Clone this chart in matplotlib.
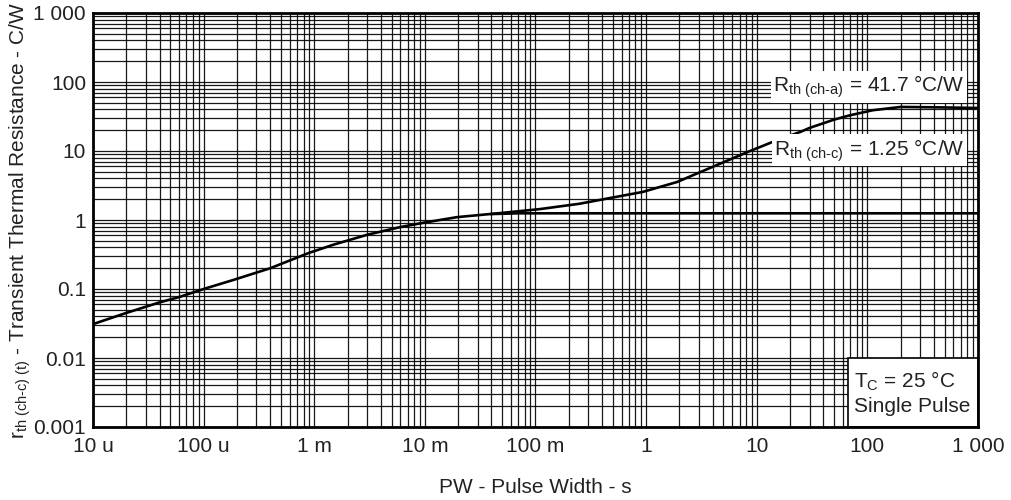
import numpy as np
import matplotlib.pyplot as plt

plt.rcParams['font.family'] = ['Liberation Sans', 'DejaVu Sans']
plt.rcParams['mathtext.fontset'] = 'custom'
plt.rcParams['mathtext.rm'] = 'Liberation Sans'
plt.rcParams['mathtext.it'] = 'Liberation Sans'

# transient thermal resistance, channel to ambient
pw_a = [1e-5, 2e-5, 4e-5, 6.1e-5, 1e-4, 1.85e-4, 4e-4, 8.8e-4, 1.5e-3, 3e-3,
        6e-3, 1e-2, 0.0195, 0.048, 0.11, 0.25, 0.47, 0.93, 1.9, 4, 8.7,
        15, 25, 30, 50, 70, 112, 200, 400, 1000]
rth_a = [0.031, 0.045, 0.064, 0.077, 0.1, 0.135, 0.2, 0.33, 0.44, 0.61,
         0.79, 0.92, 1.1, 1.26, 1.44, 1.72, 2.08, 2.55, 3.55, 5.9, 10,
         14.2, 19, 21.6, 28.5, 33, 39, 43.5, 43, 42]

# channel to case, saturates at 1.25
pw_c = [0.04, 0.07, 1000]
rth_c = [1.22, 1.25, 1.25]

xticks = [1e-5, 1e-4, 1e-3, 1e-2, 1e-1, 1, 10, 100, 1000]
xlabels = ['10 u', '100 u', '1 m', '10 m', '100 m', '1', '10', '100', '1 000']
yticks = [1e-3, 1e-2, 1e-1, 1, 10, 100, 1000]
ylabels = ['0.001', '0.01', '0.1', '1', '10', '100', '1 000']

fig = plt.figure(figsize=(10.12, 5.0), dpi=100)
ax = fig.add_axes([93/1012, 1 - 427/500, 885/1012, 414/500])

ax.set_xscale('log')
ax.set_yscale('log')
ax.set_xlim(1e-5, 1000)
ax.set_ylim(1e-3, 1000)

ax.plot(pw_c, rth_c, color='black', lw=1.9, zorder=3)
ax.plot(pw_a, rth_a, color='black', lw=1.9, zorder=3)

ax.set_xticks(xticks)
ax.set_xticklabels(xlabels)
ax.set_yticks(yticks)
ax.set_yticklabels(ylabels)
ax.tick_params(which='both', length=0, labelsize=15, colors='#222222')
ax.tick_params(axis='x', pad=7)
ax.tick_params(axis='y', pad=5)
ax.grid(True, which='both', color='black', lw=0.9, alpha=0.9)

for s in ax.spines.values():
    s.set_linewidth(2)
    s.set_zorder(5)

ax.set_xlabel('PW - Pulse Width - s', fontsize=15, color='#222222', labelpad=16)
ax.set_ylabel(r'r$_{\rm th\ (ch‐c)\ (t)}$ - Transient Thermal Resistance - C/W',
              fontsize=15, color='#222222', labelpad=0)

box = dict(facecolor='white', edgecolor='none', pad=2)
ax.text(0.985, 0.822, r'R$_{\rm th\ (ch‐a)}$ = 41.7 °C/W', transform=ax.transAxes,
        ha='right', va='center', fontsize=15, color='#222222', bbox=box, zorder=4)
ax.text(0.985, 0.668, r'R$_{\rm th\ (ch‐c)}$ = 1.25 °C/W', transform=ax.transAxes,
        ha='right', va='center', fontsize=15, color='#222222', bbox=box, zorder=4)

# case temperature box in the lower right corner
x0 = (848 - 93) / 885
y1 = (427 - 358) / 414
ax.add_patch(plt.Rectangle((x0, 0), 1 - x0, y1, transform=ax.transAxes,
                           facecolor='white', edgecolor='black', lw=1.2, zorder=4))
ax.text(x0 + 0.007, y1 / 2, 'T$_{\\rm C}$ = 25 °C\nSingle Pulse', transform=ax.transAxes,
        ha='left', va='center', fontsize=15, color='#222222', linespacing=1.25, zorder=5)

fig.savefig('out.png', dpi=100)
